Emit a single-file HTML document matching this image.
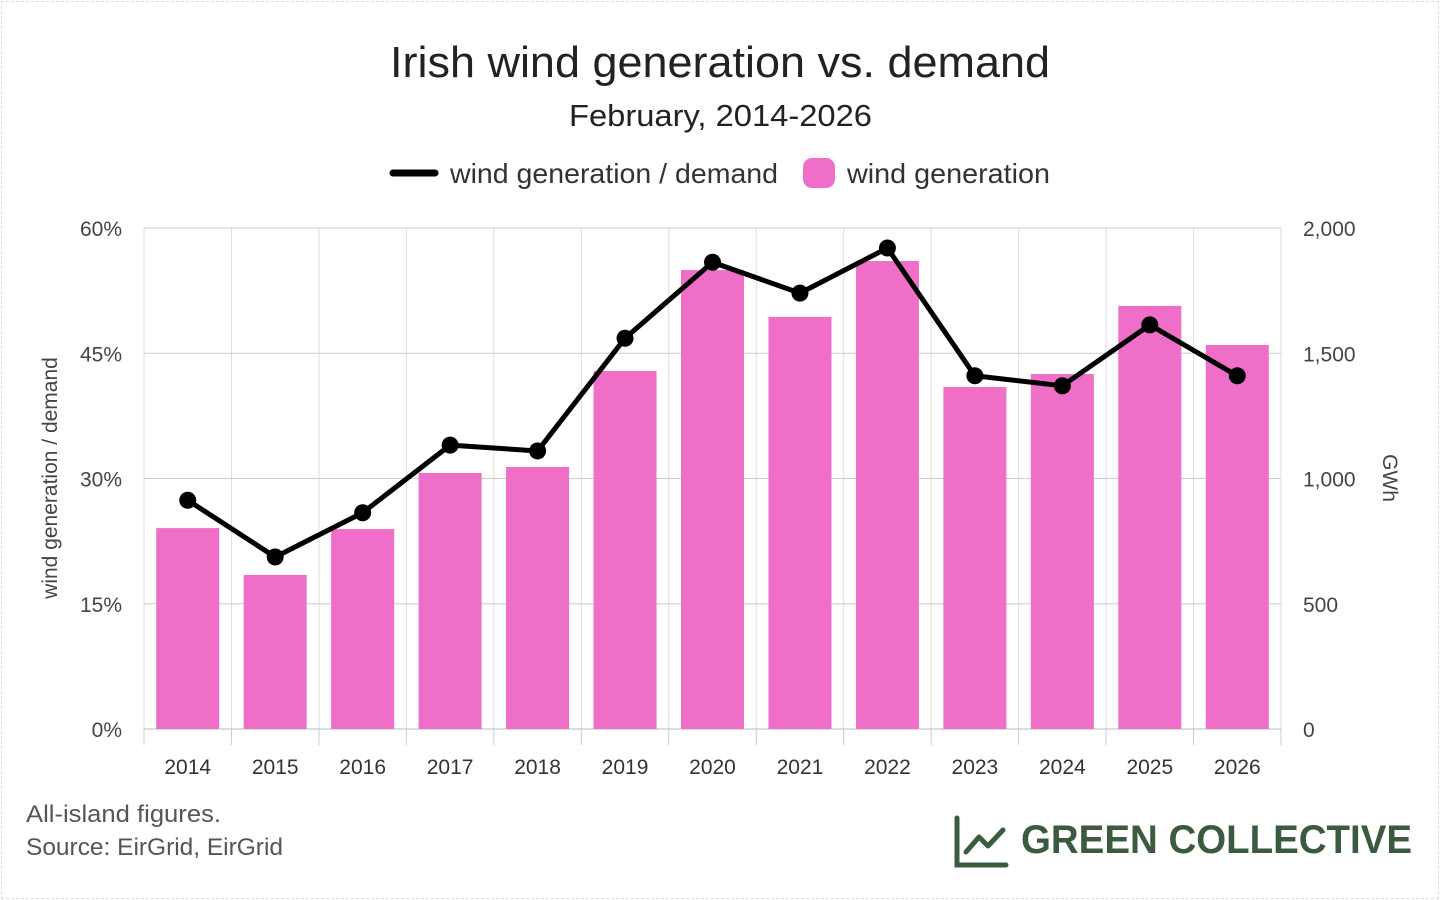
<!DOCTYPE html>
<html><head><meta charset="utf-8"><style>
html,body{margin:0;padding:0;background:#fff;}
body{width:1440px;height:900px;position:relative;overflow:hidden;font-family:"Liberation Sans",sans-serif;}
.frame{position:absolute;left:1px;top:1px;width:1436px;height:896px;border:1px dashed #ddd;}
</style></head><body>
<div class="frame"></div>
<svg id="c" width="1440" height="900" style="position:absolute;left:0;top:0">
<text x="390" y="77" textLength="660" lengthAdjust="spacingAndGlyphs" font-size="44" fill="#222">Irish wind generation vs. demand</text>
<text x="569" y="126" textLength="303" lengthAdjust="spacingAndGlyphs" font-size="31" fill="#222">February, 2014-2026</text>
<g><line x1="393" y1="173" x2="435" y2="173" stroke="#000" stroke-width="7" stroke-linecap="round"/><text x="450" y="183" font-size="28" textLength="328" lengthAdjust="spacingAndGlyphs" fill="#333">wind generation / demand</text></g>
<g><rect x="803" y="158" width="32" height="30" rx="9" fill="#ee6ec8"/><text x="847" y="183" font-size="28" textLength="203" lengthAdjust="spacingAndGlyphs" fill="#333">wind generation</text></g>
<text transform="translate(57,478) rotate(-90)" text-anchor="middle" font-size="21" fill="#444">wind generation / demand</text>
<text transform="translate(1383,478) rotate(90)" text-anchor="middle" font-size="21" fill="#444">GWh</text>
<text x="26" y="822" font-size="24" textLength="195" lengthAdjust="spacingAndGlyphs" fill="#555">All-island figures.</text>
<text x="26" y="855" font-size="24" textLength="257" lengthAdjust="spacingAndGlyphs" fill="#555">Source: EirGrid, EirGrid</text>
<g>
<path d="M957 818 V865 H1006" fill="none" stroke="#3b5a3f" stroke-width="5" stroke-linecap="round"/>
<path d="M966 852 L979 837 L988 846 L1003 830" fill="none" stroke="#3b5a3f" stroke-width="5" stroke-linecap="round" stroke-linejoin="round"/>
<text x="1021" y="853" font-size="40" font-weight="bold" textLength="391" lengthAdjust="spacingAndGlyphs" fill="#3b5a3f">GREEN COLLECTIVE</text>
</g>
<g id="plot"></g>
</svg>
<script>
const years=["2014","2015","2016","2017","2018","2019","2020","2021","2022","2023","2024","2025","2026"];
const genGWh=[802,615,798,1022,1046,1429,1832,1645,1868,1365,1417,1689,1533];
const ratioPct=[27.4,20.6,25.9,34.0,33.3,46.8,55.9,52.2,57.6,42.3,41.1,48.4,42.3];
const leftTicks=[0,15,30,45,60];
const rightTicks=[0,500,1000,1500,2000];
const NS="http://www.w3.org/2000/svg";
const g=document.getElementById('plot');
const X0=144,X1=1281,Y0=729,Y1=228,bw=(X1-X0)/years.length;
const xC=i=>X0+bw*(i+0.5);
const yL=v=>Y0-(v/60)*(Y0-Y1);
const yR=v=>Y0-(v/2000)*(Y0-Y1);
function mk(t,a){const e=document.createElementNS(NS,t);for(const k in a)e.setAttribute(k,a[k]);g.appendChild(e);return e;}
for(let i=0;i<=years.length;i++){const x=X0+bw*i;
const l=mk('line',{x1:x,x2:x,y1:Y1,y2:Y0,stroke:'#ddd','stroke-width':1});


const t=mk('line',{x1:x,x2:x,y1:Y0,y2:745,stroke:'#ccc','stroke-width':1});

}
leftTicks.forEach((v,i)=>{const y=yL(v);
const l=mk('line',{x1:X0,x2:X1,y1:y,y2:y,stroke:i==0?'#bbb':'#ccc','stroke-width':1});


const t=mk('text',{x:122,y:y+8,'text-anchor':'end','font-size':21,fill:'#444'});t.textContent=v+'%';

});
rightTicks.forEach(v=>{const y=yR(v);
const t=mk('text',{x:1303,y:y+8,'font-size':21,fill:'#444'});t.textContent=v.toLocaleString('en-US');

});
genGWh.forEach((v,i)=>{const y=yR(v);
const r=mk('rect',{x:xC(i)-31.5,y:y,width:63,height:Y0-y,fill:'#ee6ec8'});

});
years.forEach((yv,i)=>{const t=mk('text',{x:xC(i),y:774,'text-anchor':'middle','font-size':21,fill:'#333'});t.textContent=yv;

});
const p=mk('polyline',{points:ratioPct.map((v,i)=>xC(i)+','+yL(v)).join(' '),fill:'none',stroke:'#000','stroke-width':5,'stroke-linejoin':'round'});


ratioPct.forEach((v,i)=>{const c=mk('circle',{cx:xC(i),cy:yL(v),r:8.5,fill:'#000'});

});
</script>
</body></html>
